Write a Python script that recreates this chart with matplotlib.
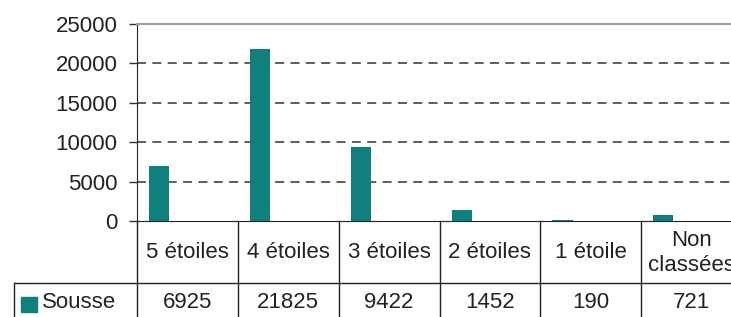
import matplotlib.pyplot as plt
from matplotlib.transforms import blended_transform_factory
from matplotlib.patches import Rectangle

categories = ['5 étoiles', '4 étoiles', '3 étoiles', '2 étoiles', '1 étoile', 'Non\nclassées']
values = [6925, 21825, 9422, 1452, 190, 721]
series = 'Sousse'
yticks = [0, 5000, 10000, 15000, 20000, 25000]

teal = '#0f807b'
W, H = 731, 317
plt.rcParams['font.family'] = ['Liberation Sans', 'DejaVu Sans']
fs = 16

fig = plt.figure(figsize=(W / 100, H / 100), dpi=100)
# plot area runs past the right edge, as in the reference
ax = fig.add_axes([137 / W, (H - 221) / H, (742 - 137) / W, (221 - 24) / H])

x = list(range(len(categories)))
ax.bar([i - 0.28 for i in x], values, width=0.2, color=teal, zorder=3)

ax.set_xlim(-0.5, len(categories) - 0.5)
ax.set_ylim(0, 25000)
ax.set_yticks(yticks)
ax.set_yticklabels([str(t) for t in yticks], fontsize=fs, color='#222222')
ax.set_xticks([])
ax.tick_params(axis='y', direction='out', length=6, width=1, pad=8, color='#333333')

for g in yticks[1:-1]:
    ax.axhline(g, color='#505050', lw=1.3, ls=(0, (5, 3.5)), zorder=1)

ax.spines['right'].set_visible(False)
ax.spines['top'].set_color('#a0a0a0')
ax.spines['top'].set_linewidth(1.5)
ax.spines['left'].set_color('#222222')
ax.spines['bottom'].set_color('#222222')

# data table under the plot
tr = blended_transform_factory(ax.transData, ax.transAxes)
row1 = (221 - 283) / 197
bottom = -0.7
leg_left = -0.5 + (14 - 137) / 100.8
lc = '#222222'
for b in [i + 0.5 for i in range(-1, len(categories))]:
    ax.plot([b, b], [0, bottom], color=lc, lw=1, transform=tr, clip_on=False)
ax.plot([leg_left, len(categories) - 0.5], [row1, row1], color=lc, lw=1, transform=tr, clip_on=False)
ax.plot([leg_left, leg_left], [row1, bottom], color=lc, lw=1, transform=tr, clip_on=False)

head_y = (221 - 253) / 197
val_y = (221 - 302) / 197
for i, (c, v) in enumerate(zip(categories, values)):
    ax.text(i, head_y, c, transform=tr, ha='center', va='center', fontsize=fs,
            color='#222222', linespacing=1.25, clip_on=False)
    ax.text(i, val_y, str(v), transform=tr, ha='center', va='center', fontsize=fs,
            color='#222222', clip_on=False)

fig.patches.append(Rectangle((21 / W, (H - 312) / H), 16 / W, 15 / H,
                             transform=fig.transFigure, color=teal))
fig.text(42 / W, (H - 302) / H, series, ha='left', va='center', fontsize=fs, color='#222222')

fig.savefig('out.png', dpi=100)
